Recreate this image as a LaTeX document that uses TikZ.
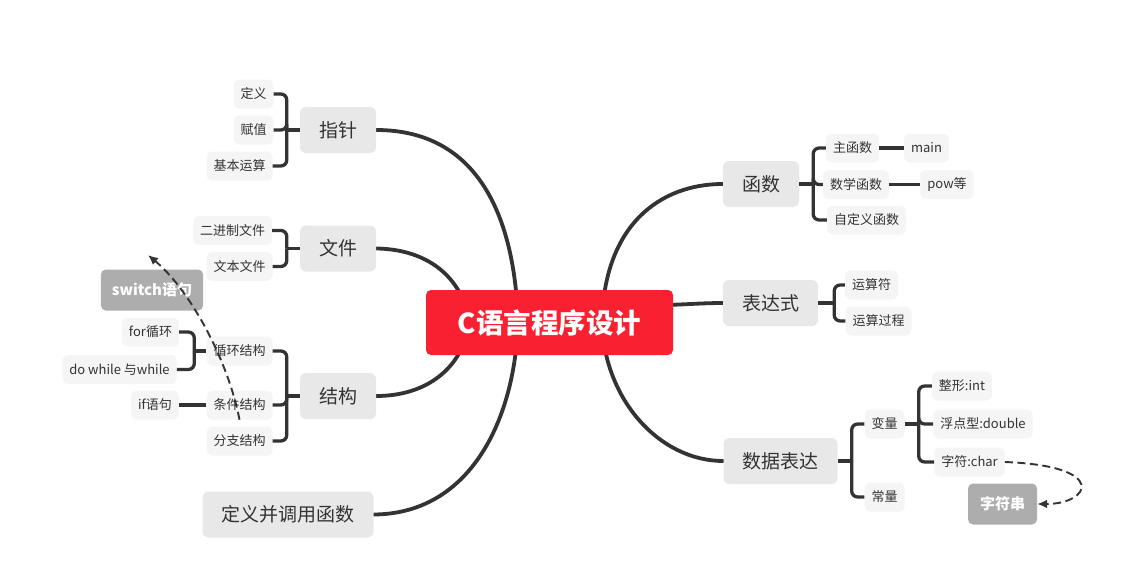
\documentclass[tikz,border=0pt]{standalone}
\usepackage{fontspec}
\setmainfont{Noto Sans CJK SC}
\usetikzlibrary{arrows.meta, calc, backgrounds}
\definecolor{mmroot}{HTML}{F92131}
\definecolor{mmmain}{HTML}{E8E8E8}
\definecolor{mmsub}{HTML}{F5F5F5}
\definecolor{mmnote}{HTML}{ADADAD}
\definecolor{mmline}{HTML}{333333}
\definecolor{mmtext}{HTML}{333333}
\tikzset{
  rootbox/.style  = {fill=mmroot, text=white, rounded corners=5pt,
                     minimum width=247, minimum height=65, inner sep=0pt,
                     font=\fontsize{27.5}{31}\selectfont\bfseries},
  topicbox/.style = {fill=mmmain, text=mmtext, rounded corners=6pt,
                     minimum height=46, inner xsep=19pt, inner ysep=0pt,
                     font=\fontsize{19}{22}\selectfont},
  subbox/.style   = {fill=mmsub, text=mmtext, rounded corners=6pt,
                     minimum height=29, inner xsep=7pt, inner ysep=0pt,
                     font=\fontsize{13}{15}\selectfont},
  notebox/.style  = {fill=mmnote, text=white, rounded corners=5pt,
                     minimum height=41, inner xsep=11pt, inner ysep=0pt,
                     font=\fontsize{15}{18}\selectfont\bfseries},
  branch/.style   = {draw=mmline, line width=3.8pt, line cap=round},
  brace/.style    = {draw=mmline, line width=3.3pt, rounded corners=6pt},
  relation/.style = {draw=mmline, line width=1.9pt, dash pattern=on 8pt off 4.5pt,
                     -{Latex[length=10pt, width=9pt]}},
}

\begin{document}
\begin{tikzpicture}[x=1pt, y=-1pt]
  \useasboundingbox (0,0) rectangle (1136,568);
  % centre
  \node[rootbox] (root) at (549.5,322.5) {C语言程序设计};
  % left topics
  \node[topicbox] (ptr) at (338,130) {指针};
  \node[topicbox] (file) at (338,248.5) {文件};
  \node[topicbox] (struct) at (338,396) {结构};
  \node[topicbox] (func2) at (288,514.5) {定义并调用函数};
  % right topics
  \node[topicbox] (func) at (761,184) {函数};
  \node[topicbox] (expr) at (770.5,303) {表达式};
  \node[topicbox] (data) at (780.5,461) {数据表达};

  \node[subbox] (ptrdef) at (253.5,94) {定义};
  \node[subbox] (ptrset) at (253.5,130) {赋值};
  \node[subbox] (ptrop) at (239.5,166) {基本运算};

  \node[subbox] (binfile) at (232.5,230.5) {二进制文件};
  \node[subbox] (txtfile) at (239.5,266.5) {文本文件};

  \node[subbox] (loop) at (239.5,351) {循环结构};
  \node[subbox] (cond) at (239.5,405) {条件结构};
  \node[subbox] (branchs) at (239.5,441) {分支结构};
  \node[subbox] (forloop) at (150.5,332) {for循环};
  \node[subbox] (whileloop) at (119.5,369.5) {do while 与while};
  \node[subbox] (ifst) at (155,405) {if语句};
  \node[notebox] (switchst) at (152,290) {switch语句};

  \node[subbox] (mainf) at (852.5,148) {主函数};
  \node[subbox] (mathf) at (856,184.5) {数学函数};
  \node[subbox] (userf) at (866.5,220) {自定义函数};
  \node[subbox] (mainkw) at (926.5,148) {main};
  \node[subbox] (powf) at (947,184.5) {pow等};

  \node[subbox] (oper) at (871.5,285) {运算符};
  \node[subbox] (operp) at (878.5,321) {运算过程};

  \node[subbox] (var) at (884.5,424) {变量};
  \node[subbox] (const) at (884.5,497) {常量};
  \node[subbox] (vint) at (962,386) {整形:int};
  \node[subbox] (vdbl) at (983,424) {浮点型:double};
  \node[subbox] (vchar) at (969.5,462) {字符:char};
  \node[notebox, minimum width=69] (vstr) at (1002.5,504) {字符串};

  \begin{pgfonlayer}{background}
    \draw[branch] (ptr.east) .. controls (480,130) and (515,220) .. (518,322);
    \draw[branch] (file.east) .. controls (420,249) and (460,270) .. (470,322);
    \draw[branch] (struct.east) .. controls (425,396) and (462,370) .. (470,322);
    \draw[branch] (func2.east) .. controls (470,514) and (515,420) .. (518,322);
    \draw[branch] (func.west) .. controls (660,184) and (604,225) .. (602,322);
    \draw[branch] (expr.west) .. controls (700,303) and (680,305) .. (660,305);
    \draw[branch] (data.west) .. controls (660,461) and (604,400) .. (602,322);
  \end{pgfonlayer}

  % left braces
  \draw[brace] (ptr.west) -- ++(-13,0);
  \foreach \kid in {ptrdef, ptrset, ptrop}
    \draw[brace] ($(ptr.west)+(-13,0)$) |- (\kid.east);
  \draw[brace] (file.west) -- ++(-13,0);
  \foreach \kid in {binfile, txtfile}
    \draw[brace] ($(file.west)+(-13,0)$) |- (\kid.east);
  \draw[brace] (struct.west) -- ++(-13,0);
  \foreach \kid in {loop, cond, branchs}
    \draw[brace] ($(struct.west)+(-13,0)$) |- (\kid.east);
  \draw[brace] (loop.west) -- ++(-12,0);
  \foreach \kid in {forloop, whileloop}
    \draw[brace] ($(loop.west)+(-12,0)$) |- (\kid.east);
  \draw[brace] (cond.west) -- (ifst.east);

  % right braces
  \draw[brace] (func.east) -- ++(14,0);
  \foreach \kid in {mainf, mathf, userf}
    \draw[brace] ($(func.east)+(14,0)$) |- (\kid.west);
  \draw[brace] (mainf.east) -- (mainkw.west);
  \draw[brace] (mathf.east) -- (powf.west);
  \draw[brace] (expr.east) -- ++(16,0);
  \foreach \kid in {oper, operp}
    \draw[brace] ($(expr.east)+(16,0)$) |- (\kid.west);
  \draw[brace] (data.east) -- ++(14,0);
  \foreach \kid in {var, const}
    \draw[brace] ($(data.east)+(14,0)$) |- (\kid.west);
  \draw[brace] (var.east) -- ++(14,0);
  \foreach \kid in {vint, vdbl, vchar}
    \draw[brace] ($(var.east)+(14,0)$) |- (\kid.west);

  % relations
  \coordinate (swtip) at (148,255);
  \draw[relation] (cond.south) .. controls (228,360) and (190,290) .. (swtip);
  \draw[relation] (vchar.east) .. controls (1110,466) and (1090,504) .. (vstr.east);
\end{tikzpicture}
\end{document}
